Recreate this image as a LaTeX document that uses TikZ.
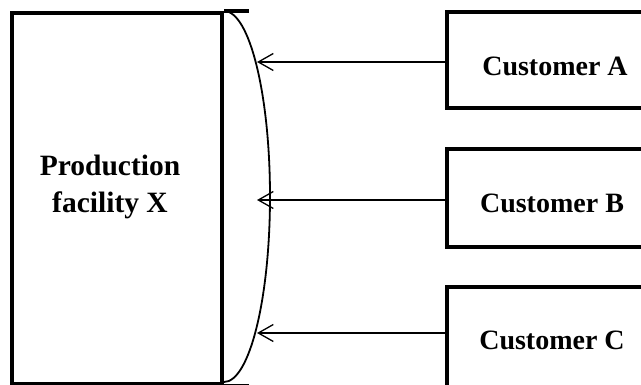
\documentclass[tikz,border=0pt]{standalone}
\usepackage{fontspec}
\setmainfont{Liberation Serif}
\usetikzlibrary{arrows.meta}
\begin{document}
\begin{tikzpicture}[x=1pt,y=-1pt,
  boxline/.style={draw=black,line width=4pt,inner sep=0pt},
  lbl/.style={font=\bfseries\fontsize{28}{37}\selectfont,inner sep=0pt,align=center},
  flow/.style={draw=black,line width=1.3pt,-{Straight Barb[length=15pt,width=17pt,line width=1.3pt]}}]
\useasboundingbox (0,0) rectangle (641,385);
% production facility box
\node[boxline,minimum width=210pt,minimum height=371pt] (prod) at (117,198.5) {};
\node[lbl,font=\bfseries\fontsize{29.5}{37}\selectfont] (plabel) at (110,187) {Production\\facility X};
% top and bottom extensions
\coordinate (tr) at (249,13);
\draw[line width=3.5pt] (prod.north east) -- (prod.north east -| tr);
\draw[line width=3.5pt] (prod.south east) -- (prod.south east -| tr);
% curved boundary
\draw[line width=1.8pt] (prod.north east) arc[start angle=90,end angle=-90,x radius=46pt,y radius=185.5pt];
% customer boxes
\node[boxline,minimum width=200pt,minimum height=96pt] (ca) at (547,60.5) {};
\node[boxline,minimum width=200pt,minimum height=98pt] (cb) at (547,198) {};
\node[boxline,minimum width=200pt,minimum height=104pt] (cc) at (547,339) {};
\node[lbl,anchor=base] (la) at (555,76) {Customer A};
\node[lbl,anchor=base] (lb) at (552,213) {Customer B};
\node[lbl,anchor=base] (lc) at (552,350) {Customer C};
% arrow tips on the curve
\coordinate (ta) at (257,62);
\coordinate (tb) at (257,200);
\coordinate (tc) at (257,333);
\draw[flow] (ca.west |- ta) -- (ta);
\draw[flow] (cb.west |- tb) -- (tb);
\draw[flow] (cc.west |- tc) -- (tc);
\end{tikzpicture}
\end{document}
